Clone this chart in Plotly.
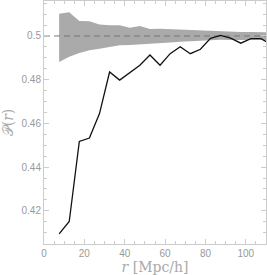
import plotly.graph_objects as go

r = [7.5, 12.5, 17.5, 22.5, 27.5, 32.5, 37.5, 42.5, 47.5, 52.5, 57.5, 62.5,
     67.5, 72.5, 77.5, 82.5, 87.5, 92.5, 97.5, 102.5, 107.5, 112.5]
p_obs = [0.4094, 0.4151, 0.4517, 0.4533, 0.4645, 0.4835, 0.4798, 0.4830,
         0.4866, 0.4913, 0.4866, 0.4919, 0.4951, 0.4919, 0.4939, 0.4989,
         0.5003, 0.4990, 0.4967, 0.4988, 0.4988, 0.4962]
band_hi = [0.5102, 0.5108, 0.5068, 0.5067, 0.5053, 0.5049, 0.5049, 0.5038,
           0.5046, 0.5032, 0.5033, 0.5031, 0.5027, 0.5027, 0.5024, 0.5021,
           0.5020, 0.5019, 0.5018, 0.5018, 0.5018, 0.5017]
band_lo = [0.4881, 0.4905, 0.4922, 0.4935, 0.4942, 0.4950, 0.4958, 0.4959,
           0.4961, 0.4964, 0.4967, 0.4970, 0.4974, 0.4977, 0.4979, 0.4982,
           0.4983, 0.4981, 0.4982, 0.4983, 0.4982, 0.4981]
ref_level = 0.5
x_ticks = [0, 20, 40, 60, 80, 100]
y_ticks = [0.42, 0.44, 0.46, 0.48, 0.5]
y_tick_text = ["0.42", "0.44", "0.46", "0.48", "0.5"]

fig = go.Figure()
fig.add_trace(go.Scatter(x=r, y=band_hi, mode="lines", line=dict(width=0, color="#aaaaaa"),
                         showlegend=False, hoverinfo="skip"))
fig.add_trace(go.Scatter(x=r, y=band_lo, mode="lines", line=dict(width=0, color="#aaaaaa"),
                         fill="tonexty", fillcolor="#aaaaaa", showlegend=False, hoverinfo="skip"))
fig.add_trace(go.Scatter(x=[0, 120], y=[ref_level, ref_level], mode="lines",
                         line=dict(color="#777777", width=1, dash="6px,4px"), showlegend=False))
fig.add_trace(go.Scatter(x=r, y=p_obs, mode="lines",
                         line=dict(color="#111111", width=1.3), showlegend=False))

axis_common = dict(
    showgrid=False, zeroline=False, showline=True, linecolor="#cccccc", linewidth=1,
    mirror="ticks", ticks="inside", ticklen=5, tickcolor="#cccccc", tickwidth=1,
    tickfont=dict(family="Liberation Sans", size=10, color="#999999"),
    automargin=False,
)

fig.update_layout(
    width=267, height=275,
    margin=dict(l=44, r=1, t=1, b=31),
    paper_bgcolor="white", plot_bgcolor="white",
    xaxis=dict(range=[0, 110], tickvals=x_ticks,
               minor=dict(ticks="inside", dtick=5, ticklen=3, tickcolor="#cccccc"),
               title=dict(text="<i>r</i> [Mpc/h]", standoff=0,
                          font=dict(family="DejaVu Serif", size=14, color="#aaaaaa")),
               **axis_common),
    yaxis=dict(range=[0.4048, 0.516], tickvals=y_ticks, ticktext=y_tick_text,
               minor=dict(ticks="inside", dtick=0.005, tick0=0.4, ticklen=3, tickcolor="#cccccc"),
               title=dict(text="𝒫(<i>r</i>)", standoff=6,
                          font=dict(family="DejaVu Serif", size=14, color="#aaaaaa")),
               **axis_common),
)

fig.write_html("out.html", config={"displayModeBar": False},
               post_script="document.body.style.margin='0';document.body.style.overflow='hidden';")
